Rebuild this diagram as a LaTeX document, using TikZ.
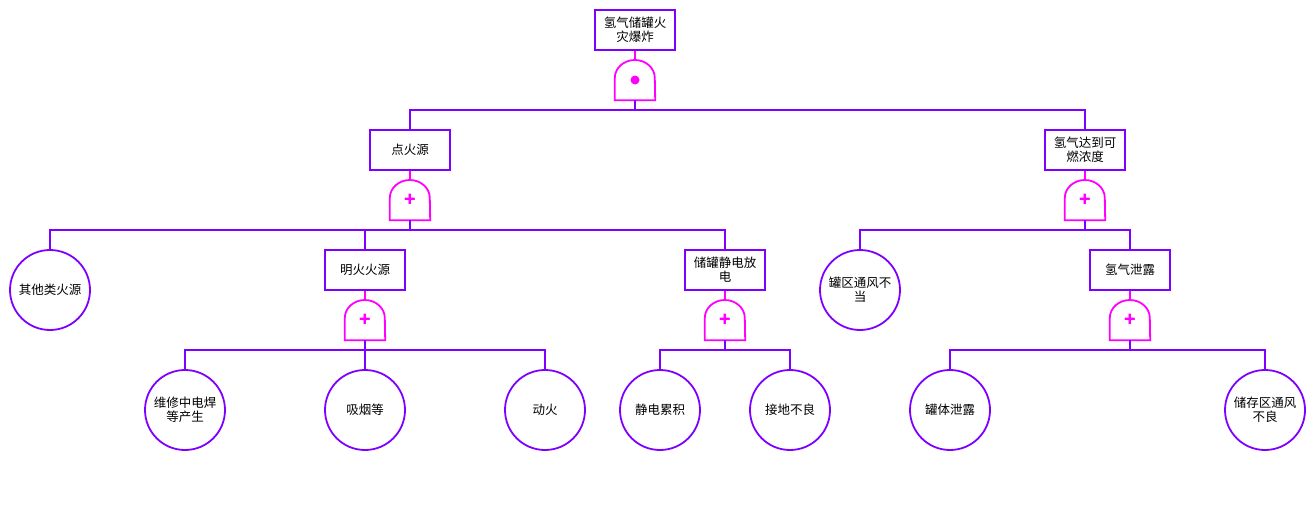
\documentclass[tikz,border=0pt]{standalone}
\usepackage{fontspec}
\newfontfamily\cjk{Noto Sans CJK SC}
\usetikzlibrary{positioning}
\definecolor{ftpurple}{RGB}{128,0,255}
\definecolor{ftgate}{RGB}{255,0,255}
\tikzset{
	event/.style={draw=ftpurple, line width=1.8pt, fill=white, minimum width=80pt, minimum height=40pt, inner sep=1pt, align=center, font=\cjk\fontsize{12.5}{14}\selectfont},
	basic/.style={circle, draw=ftpurple, line width=1.8pt, fill=white, minimum size=80pt, inner sep=0pt, align=center, font=\cjk\fontsize{12.5}{14}\selectfont},
	gatebox/.style={minimum width=40pt, minimum height=40pt, inner sep=0pt, text=ftgate, font=\cjk\bfseries\fontsize{19}{19}\selectfont},
	gateline/.style={draw=ftgate, line width=1.8pt},
	link/.style={draw=ftpurple, line width=1.8pt},
	glink/.style={draw=ftgate, line width=1.8pt}
}

\begin{document}
\begin{tikzpicture}[x=1pt, y=-1pt]
\useasboundingbox (0,0) rectangle (1314,511);

% events
\path (635,30) node[event] (top) {氢气储罐火\\灾爆炸};
\path (410,150) node[event] (e1) {点火源}
	(1085,150) node[event] (e2) {氢气达到可\\燃浓度};
\path (365,270) node[event] (e3) {明火火源}
	(725,270) node[event] (e4) {储罐静电放\\电}
	(1130,270) node[event] (e5) {氢气泄露};

% basic events
\path (50,290) node[basic] (b1) {其他类火源}
	(860,290) node[basic] (b2) {罐区通风不\\当};
\foreach \n/\x/\t in {b3/185/{维修中电焊\\等产生}, b4/365/吸烟等, b5/545/动火,
	b6/660/静电累积, b7/790/接地不良, b8/950/罐体泄露, b9/1265/{储存区通风\\不良}} {
	\path (\x,410) node[basic] (\n) {\t};
	};

% gates
\foreach \n/\x/\y/\s in {g0/635/80/{}, g1/410/200/+, g2/1085/200/+, g3/365/320/+, g4/725/320/+, g5/1130/320/+} {
	\path (\x,\y) node[gatebox] (\n) {\s};
	\draw[gateline] (\n.south west) -- ([yshift=2pt]\n.west) arc[start angle=180, end angle=0, x radius=20pt, y radius=18pt] -- (\n.south east) -- cycle;
	};
\fill[ftgate] (g0.center) circle (4.5pt);

% gate inputs
\foreach \e/\g in {top/g0, e1/g1, e2/g2, e3/g3, e4/g4, e5/g5} {
	\draw[glink] (\e.south) -- (\g.north);
	};

% gate outputs
\foreach \g/\c in {g0/e1, g0/e2, g1/b1, g1/e3, g1/e4, g2/b2, g2/e5,
	g3/b3, g3/b4, g3/b5, g4/b6, g4/b7, g5/b8, g5/b9} {
	\draw[link] (\g.south) -- ++(0,10) -| (\c.north);
	};
\end{tikzpicture}
\end{document}
